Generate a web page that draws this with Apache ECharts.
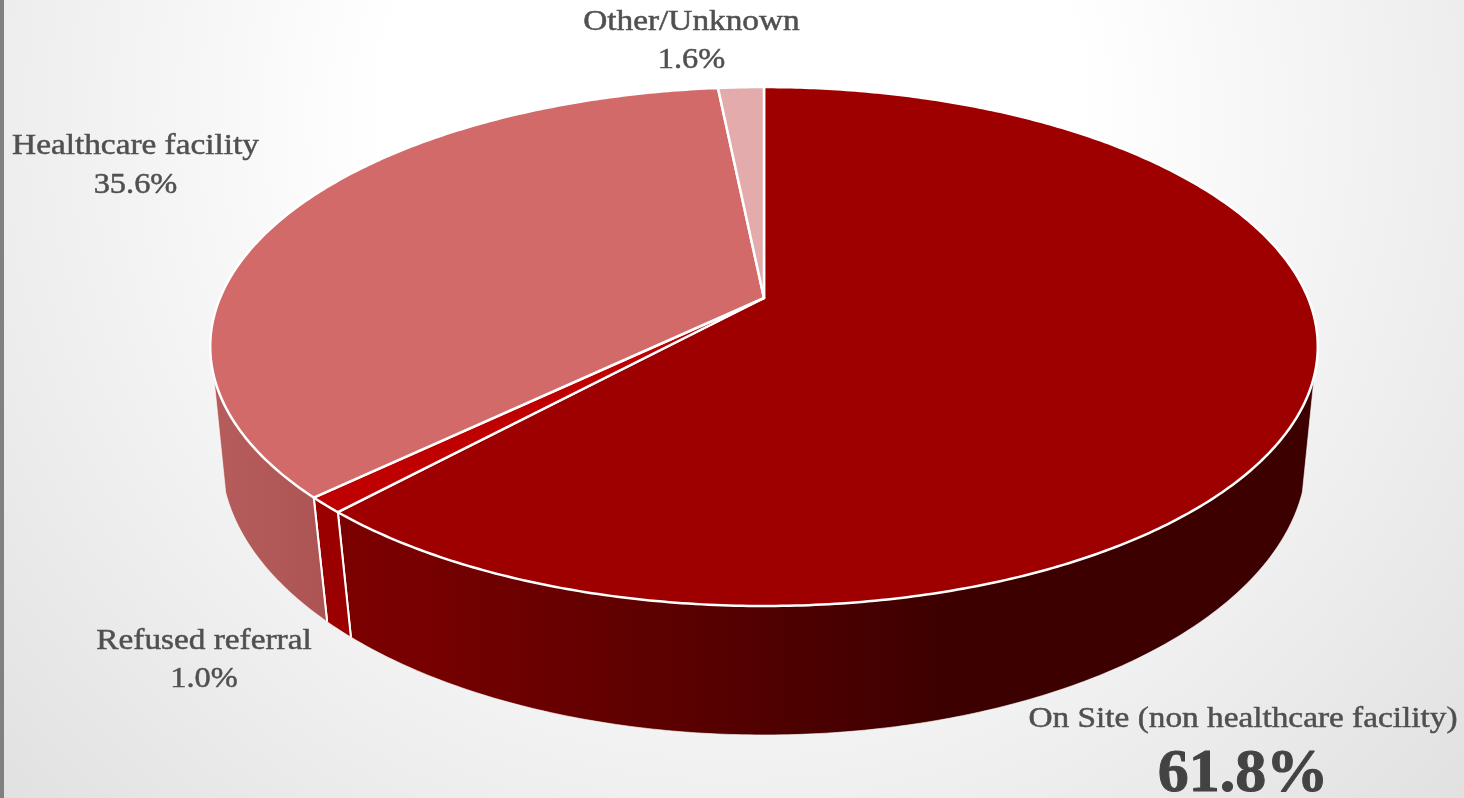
<!DOCTYPE html>
<html>
<head>
<meta charset="utf-8">
<title>Disposition of patients</title>
<style>
  html, body { margin: 0; padding: 0; width: 100%; height: 100%; overflow: hidden; }
  #chart { width: 1464px; height: 798px; }
</style>
<script src="https://cdn.jsdelivr.net/npm/echarts@6/dist/echarts.min.js"></script>
</head>
<body>
<div id="chart"></div>
<script>
// Slice names and shares, clockwise from twelve o'clock
const categories = ['On Site (non healthcare facility)', 'Refused referral', 'Healthcare facility', 'Other/Unknown'];
const shares = [61.8, 1.0, 35.6, 1.6];

// Slice styling, same order as the categories
const topColors = ['#9e0000', '#be0000', '#d26a6a', '#e3abab'];
const sideStops = [
  [[0, '#7c0000'], [0.08, '#780000'], [0.62, '#3d0000'], [1, '#3d0000']],
  [[0, '#9a0000'], [1, '#9a0000']],
  [[0, '#b65c5c'], [1, '#ac5454']],
  [[0, '#b98888'], [1, '#b98888']]
];

// Label placement: centre x, y of the name line, y of the value line, value font size
const labelPlaces = [
  [1243, 719, 775, 62],
  [204, 641, 679, 30],
  [135.5, 146, 185, 30],
  [691.5, 22, 60, 30]
];

// Perspective projection of the disc: a plane tilted away from the viewer
const CX = 764;
const topFace = { y: 298, rx: 544, ry: 250.4, tilt: 0.187 };
const bottomFace = { y: 408.7, rx: 535, ry: 270.8, tilt: 0.17 };
// Angle at which the wall's outline leaves the rim, measured from twelve o'clock
const WALL_LIMIT = 107 * Math.PI / 180;

function project(face, angle) {
  const u = Math.sin(angle);
  const v = Math.cos(angle);
  const w = 1 + face.tilt * v;
  return [CX + face.rx * u / w, face.y - face.ry * v / w];
}

function arcPoints(face, from, to) {
  const steps = Math.max(2, Math.ceil((to - from) / 0.01));
  const pts = [];
  for (let i = 0; i <= steps; i++) {
    pts.push(project(face, from + (to - from) * i / steps));
  }
  return pts;
}

// Start and end angle of slice i from the cumulative shares
function sliceAngles(i) {
  const total = shares.reduce((a, b) => a + b, 0);
  const before = shares.slice(0, i).reduce((a, b) => a + b, 0);
  return [before / total * 2 * Math.PI, (before + shares[i]) / total * 2 * Math.PI];
}

function renderSide(params, api) {
  const i = api.value(0);
  const [a0, a1] = sliceAngles(i);
  // Only the part of the wall in front of the viewer is visible
  const from = Math.max(a0, WALL_LIMIT);
  const to = Math.min(a1, 2 * Math.PI - WALL_LIMIT);
  if (to <= from) return { type: 'group', children: [] };
  const upper = arcPoints(topFace, from, to);
  const lower = arcPoints(bottomFace, from, to);
  const ring = upper.concat(lower.slice().reverse());
  const stops = sideStops[i].map(s => ({ offset: s[0], color: s[1] }));
  const children = [{
    type: 'polygon',
    shape: { points: ring },
    style: { fill: { type: 'linear', x: 0, y: 0, x2: 1, y2: 0, colorStops: stops }, stroke: 'rgba(255,255,255,0.6)', lineWidth: 1 }
  }];
  // White seams where slices meet on the wall
  [a0, a1].forEach(a => {
    if (a > WALL_LIMIT && a < 2 * Math.PI - WALL_LIMIT) {
      const p = project(topFace, a);
      const q = project(bottomFace, a);
      children.push({
        type: 'line',
        shape: { x1: p[0], y1: p[1], x2: q[0], y2: q[1] },
        style: { stroke: '#fff', lineWidth: 2 }
      });
    }
  });
  return { type: 'group', children };
}

function renderTop(params, api) {
  const i = api.value(0);
  const [a0, a1] = sliceAngles(i);
  const apex = [CX, topFace.y];
  return {
    type: 'polygon',
    shape: { points: [apex].concat(arcPoints(topFace, a0, a1)) },
    style: { fill: topColors[i], stroke: '#fff', lineWidth: 2.5, lineJoin: 'round' }
  };
}

function renderLabel(params, api) {
  const i = api.value(0);
  const [x, y1, y2, size] = labelPlaces[i];
  const font = '"Liberation Serif", serif';
  const big = size > 40;
  return {
    type: 'group',
    children: [{
      type: 'text',
      x, y: y1, scaleX: 1.11,
      style: {
        x: 0, y: 0, text: categories[i], fill: '#505050', stroke: '#505050', lineWidth: 0.5,
        font: '30px ' + font, align: 'center', verticalAlign: 'middle'
      }
    }, {
      type: 'text',
      x, y: y2, scaleX: big ? 1 : 1.08,
      style: {
        x: 0, y: 0, text: shares[i].toFixed(1) + '%', fill: big ? '#434343' : '#505050',
        stroke: big ? '#434343' : '#505050', lineWidth: big ? 1 : 0.5,
        font: (big ? 'bold ' : '') + size + 'px ' + font, align: 'center', verticalAlign: 'middle'
      }
    }]
  };
}

const rows = shares.map((v, i) => [i, v]);
const chart = echarts.init(document.getElementById('chart'), null, { renderer: 'canvas' });
chart.setOption({
  animation: false,
  backgroundColor: {
    type: 'radial', x: 0.5, y: 0.15, r: 1.25,
    colorStops: [{ offset: 0, color: '#ffffff' }, { offset: 0.35, color: '#ffffff' }, { offset: 1, color: '#e1e1e1' }]
  },
  graphic: [{
    type: 'rect', left: 0, top: 0, z: 100,
    shape: { width: 4, height: 798 }, style: { fill: '#808080' }
  }],
  series: [
    { type: 'custom', coordinateSystem: 'none', z: 1, data: rows, renderItem: renderSide, silent: true },
    { type: 'custom', coordinateSystem: 'none', z: 2, data: rows, renderItem: renderTop, silent: true },
    { type: 'custom', coordinateSystem: 'none', z: 3, data: rows, renderItem: renderLabel, silent: true }
  ]
});
</script>
</body>
</html>
